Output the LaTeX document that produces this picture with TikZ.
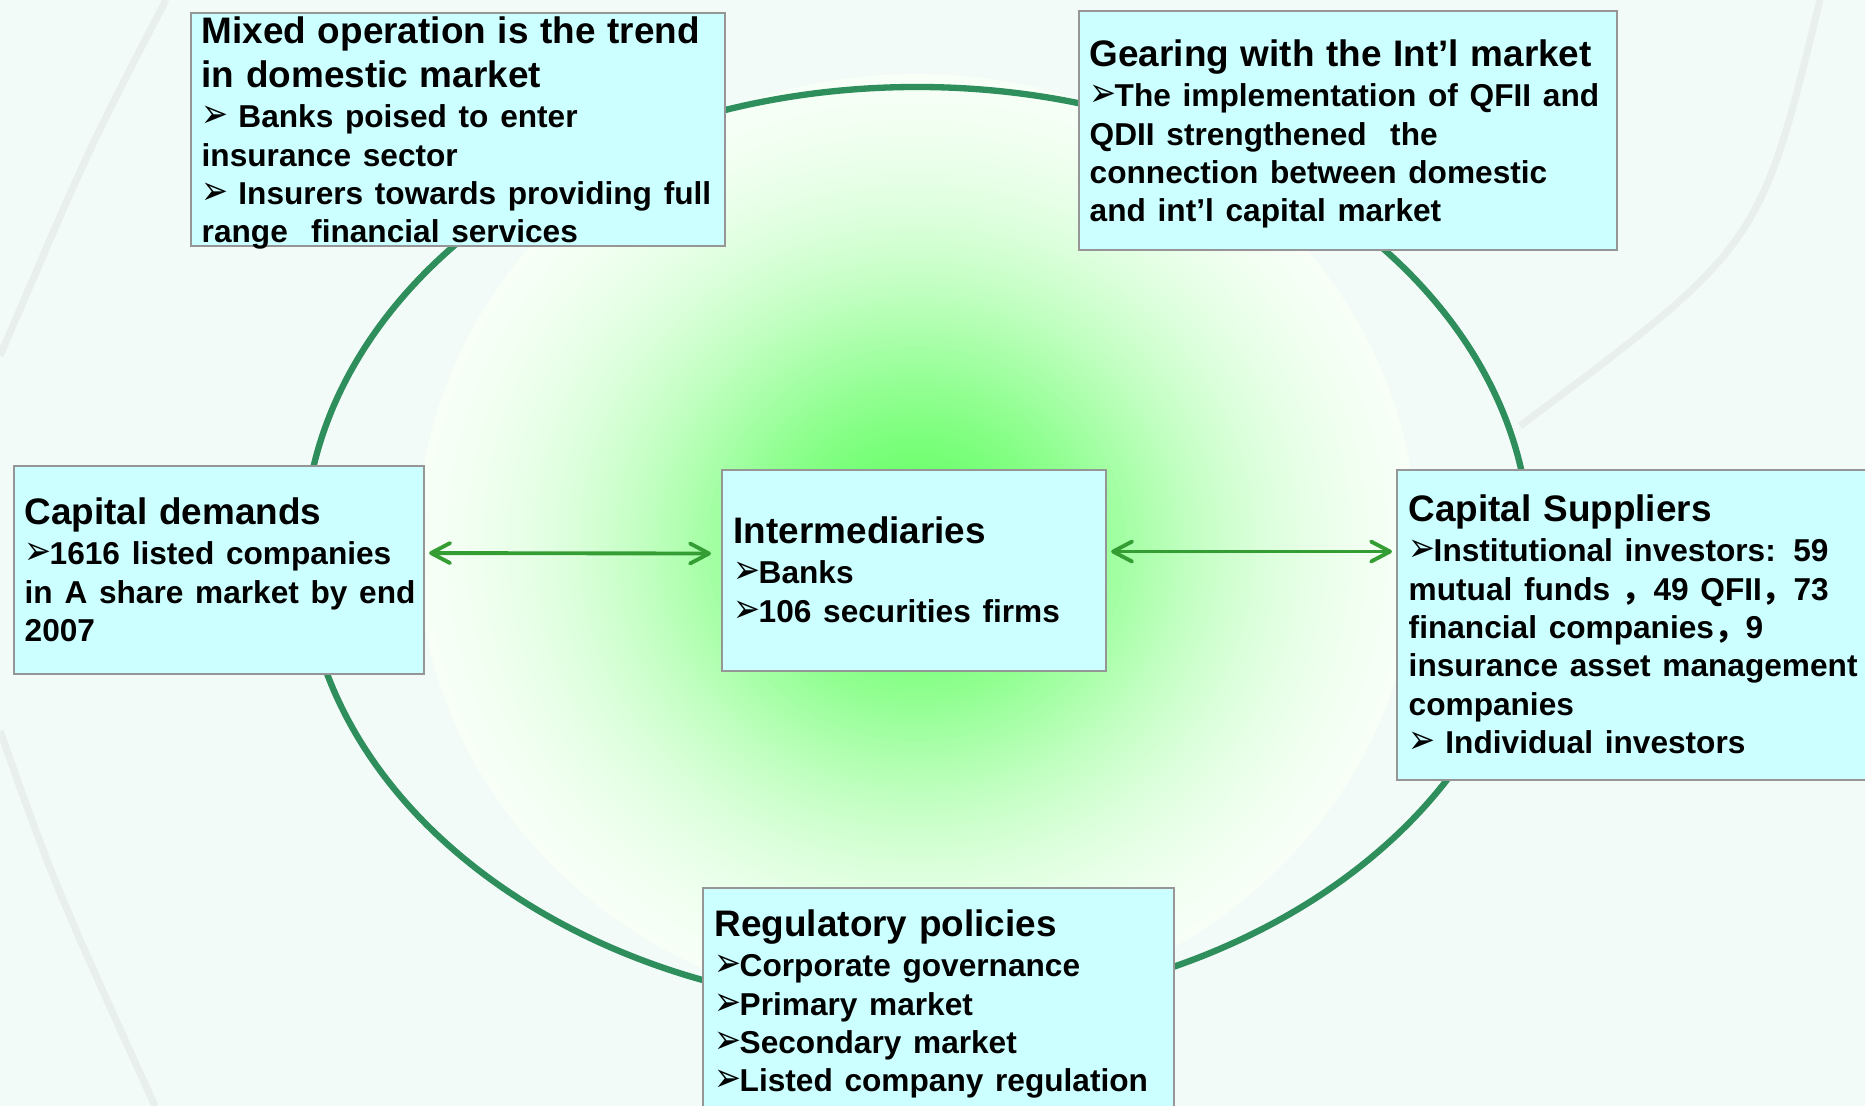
\documentclass[tikz,border=0pt]{standalone}
\usepackage{fontspec}
\setmainfont{Liberation Sans}
\newfontfamily\symf{DejaVu Sans}
\newfontfamily\cjk{Noto Sans CJK SC}
\usetikzlibrary{arrows.meta, positioning, calc}

\definecolor{bgmint}{RGB}{242,251,248}
\definecolor{bgstreak}{RGB}{232,239,236}
\definecolor{glowgreen}{RGB}{102,255,102}
\definecolor{ringgreen}{RGB}{46,142,92}
\definecolor{arrowgreen}{RGB}{52,158,52}
\definecolor{boxfill}{RGB}{204,255,255}
\definecolor{boxline}{RGB}{150,150,150}

\newcommand\ttl{\fontsize{10.5}{12.5}\selectfont}
\newcommand\bdy{\fontsize{9}{10.9}\selectfont}
\newcommand\arr{\makebox[0.25cm][l]{\scalebox{0.8}[1]{\symf\fontsize{11.5}{10}\selectfont ➢}}}
\newcommand\fwc{{\cjk ，}}

\begin{document}
\begin{tikzpicture}[
    box/.style={draw=boxline, fill=boxfill, line width=0.6pt, anchor=north west, inner sep=0pt},
    txt/.style={anchor=base west, inner sep=0pt, text width=#1, align=left, font=\bfseries},
    ring/.style={draw=ringgreen, line width=1.8pt},
    streak/.style={draw=bgstreak, line width=2pt},
    link/.style={draw=arrowgreen, line width=1.1pt, shorten <=0.04cm,
        {Straight Barb[length=1.9mm,width=2mm,round]}-{Straight Barb[length=1.9mm,width=2mm,round]}}
  ]
    \useasboundingbox (0,0) rectangle (18.65,11.06);
    % background
    \fill[bgmint] (0,0) rectangle (18.65,11.06);
    \draw[streak] (1.66,11.06) .. controls (0.9,9.6) .. (0,7.5);
    \draw[streak] (0,3.75) .. controls (0.55,2.2) .. (1.55,0);
    \draw[streak] (18.2,11.06) .. controls (17.6,8.6) .. (15.2,6.8);
    % green glow, from the rim inwards
    \coordinate (glowc) at (9.17,5.62);
    \foreach \r in {5.0,4.95,...,0.04} {
        \pgfmathsetmacro\f{100*exp(-(\r/2.9)^2)}
        \fill[glowgreen!\f!white] (glowc) ellipse [x radius=\r cm, y radius=0.94*\r cm];
      }
    % ring
    \coordinate (ringc) at (9.17,5.58);
    \draw[ring] (ringc) ellipse [x radius=6.13cm, y radius=4.61cm];

    % boxes
    \node[box, minimum width=5.34cm, minimum height=2.33cm] (mix) at (1.90,10.94) {};
    \node[box, minimum width=5.38cm, minimum height=2.39cm] (gear) at (10.78,10.96) {};
    \node[box, minimum width=4.10cm, minimum height=2.08cm] (demand) at (0.13,6.41) {};
    \node[box, minimum width=3.84cm, minimum height=2.01cm] (inter) at (7.21,6.37) {};
    \node[box, minimum width=4.80cm, minimum height=3.10cm] (supply) at (13.96,6.37) {};
    \node[box, minimum width=4.71cm, minimum height=2.40cm] (reg) at (7.02,2.19) {};

    % texts
    \node[txt=5.2cm] (mixtxt) at ([shift={(0.11,-0.315)}]mix.north west)
      {{\ttl Mixed operation is the trend\\in domestic market\par}\vspace{0.6pt}
       {\bdy \arr\ Banks poised to enter\\insurance sector\\\arr\ Insurers towards providing full\\range~ financial services\par}};
    \node[txt=5.2cm] (geartxt) at ([shift={(0.11,-0.565)}]gear.north west)
      {{\ttl Gearing with the Int’l market\par}\vspace{0.6pt}
       {\bdy \arr The implementation of QFII and\\QDII strengthened~ the\\connection between domestic\\and int’l capital market\par}};
    \node[txt=3.95cm] (demandtxt) at ([shift={(0.11,-0.595)}]demand.north west)
      {{\ttl Capital demands\par}\vspace{0.6pt}
       {\bdy \arr 1616 listed companies\\in A share market by end\\2007\par}};
    \node[txt=3.7cm] (intertxt) at ([shift={(0.12,-0.745)}]inter.north west)
      {{\ttl Intermediaries\par}\vspace{0.6pt}
       {\bdy \arr Banks\\\arr 106 securities firms\par}};
    \node[txt=4.6cm] (supplytxt) at ([shift={(0.12,-0.525)}]supply.north west)
      {{\ttl Capital Suppliers\par}\vspace{0.6pt}
       {\bdy \arr Institutional investors: 59\\mutual funds \fwc 49 QFII\fwc 73\\financial companies\fwc 9\\insurance asset management\\companies\\\arr\ Individual investors\par}};
    \node[txt=4.5cm] (regtxt) at ([shift={(0.12,-0.495)}]reg.north west)
      {{\ttl Regulatory policies\par}\vspace{0.6pt}
       {\bdy \arr Corporate governance\\\arr Primary market\\\arr Secondary market\\\arr Listed company regulation\par}};

    % links
    \draw[link, shorten >=0.1cm] ([yshift=1.7mm]demand.east) -- ([yshift=1.7mm]inter.west);
    \draw[link, shorten >=0.04cm] ([yshift=1.9mm]inter.east) -- ([yshift=1.9mm]inter.east -| supply.west);
  \end{tikzpicture}
\end{document}
